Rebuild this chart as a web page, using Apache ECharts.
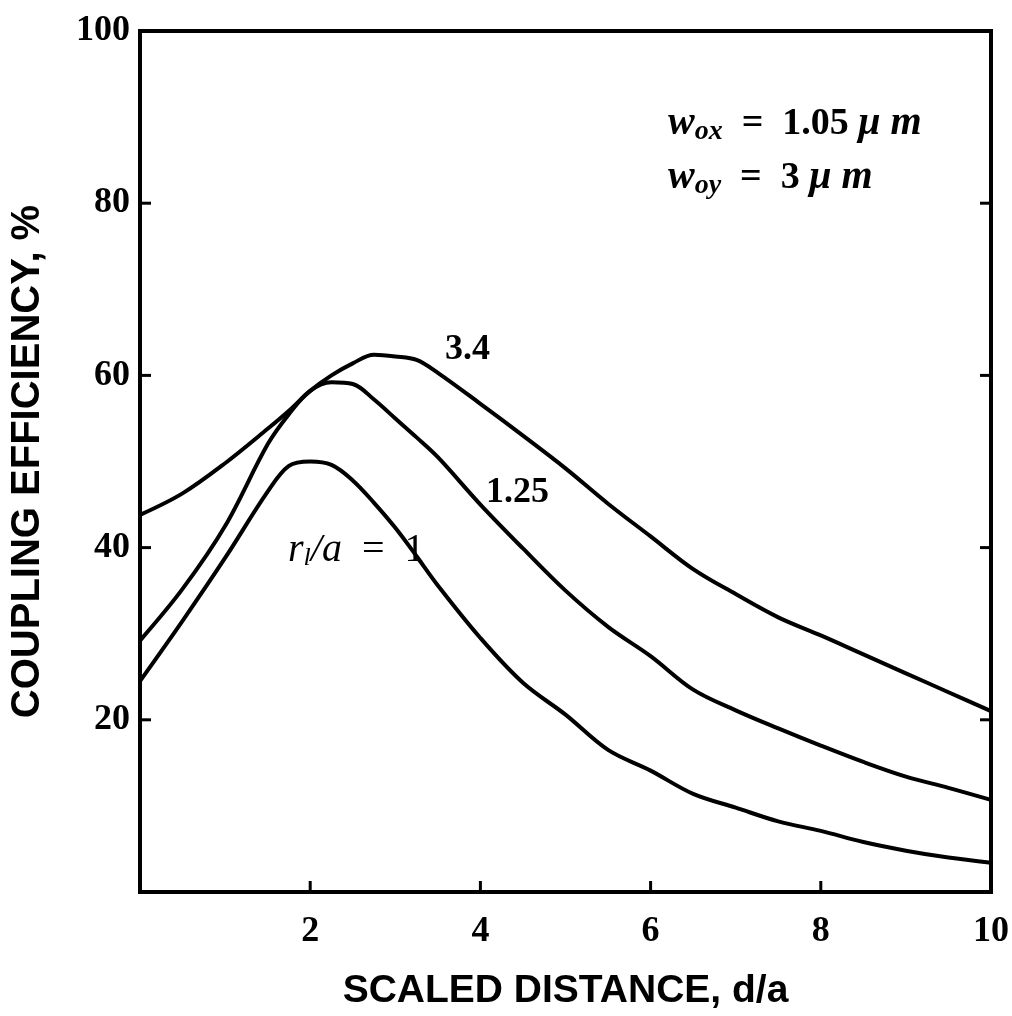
<!DOCTYPE html>
<html>
<head>
<meta charset="utf-8">
<script src="https://cdn.jsdelivr.net/npm/echarts@6/dist/echarts.min.js"></script>
<style>
html,body{margin:0;padding:0;background:#fff;}
#chart{width:1012px;height:1016px;}
</style>
</head>
<body>
<div id="chart"></div>
<script>
const xValues = [0, 0.5, 1, 1.5, 1.75, 2, 2.25, 2.5, 2.75, 3, 3.25, 3.5, 4, 4.5, 5, 5.5, 6, 6.5, 7, 7.5, 8, 8.5, 9, 9.5, 10];
const curve34 = [43.8, 46.3, 49.8, 53.8, 55.9, 58.2, 60.0, 61.4, 62.4, 62.2, 61.8, 60.3, 56.7, 53.0, 49.2, 45.1, 41.3, 37.5, 34.6, 31.9, 29.8, 27.6, 25.4, 23.2, 21.0];
const curve125 = [29.2, 35.2, 42.5, 52.0, 55.5, 58.2, 59.2, 59.0, 57.2, 55.0, 52.8, 50.5, 45.0, 39.9, 35.0, 30.8, 27.4, 23.5, 21.1, 19.0, 17.0, 15.1, 13.4, 12.1, 10.7];
const curve1 = [24.5, 31.5, 38.8, 46.5, 49.5, 50.0, 49.6, 47.8, 45.2, 42.3, 39.0, 35.6, 29.5, 24.3, 20.6, 16.5, 14.1, 11.4, 9.8, 8.2, 7.1, 5.8, 4.8, 4.0, 3.4];
const xTicks = [2, 4, 6, 8, 10];
const yTicks = [20, 40, 60, 80, 100];
const innerXTicks = [2, 4, 6, 8];
const innerYTicks = [20, 40, 60, 80];

const pairs = ys => xValues.map((x, i) => [x, ys[i]]);
const chart = echarts.init(document.getElementById('chart'));
const tickFont = {fontFamily: 'Liberation Serif', fontWeight: 'bold', fontSize: 36, color: '#000'};
const lineSeries = (name, ys) => ({
  name, type: 'line', data: pairs(ys), smooth: 0.35, symbol: 'none',
  lineStyle: {color: '#000', width: 4}
});
const serifIt = {fontFamily: 'Liberation Serif', fontStyle: 'italic', fontWeight: 'bold', fontSize: 40, color: '#000'};
const serifSub = {fontFamily: 'Liberation Serif', fontStyle: 'italic', fontWeight: 'bold', fontSize: 28, color: '#000', verticalAlign: 'bottom', padding: [16, 0, 0, 0]};
const serifN = {fontFamily: 'Liberation Serif', fontWeight: 'bold', fontSize: 38, color: '#000'};

const annotations = [
  {type: 'text', id: 'a1', left: 668, top: 104, style: {
    text: '{w|w}{s|ox}{n|  =  1.05 }{w|μ m}',
    rich: {w: serifIt, s: serifSub, n: serifN}
  }},
  {type: 'text', id: 'a2', left: 668, top: 158, style: {
    text: '{w|w}{s|oy}{n|  =  3 }{w|μ m}',
    rich: {w: serifIt, s: serifSub, n: serifN}
  }},
  {type: 'text', id: 'a3', left: 445, top: 332, style: {text: '3.4', font: 'bold 36px "Liberation Serif"', fill: '#000'}},
  {type: 'text', id: 'a4', left: 486, top: 475, style: {text: '1.25', font: 'bold 36px "Liberation Serif"', fill: '#000'}},
  {type: 'text', id: 'a5', left: 288, top: 530, style: {
    text: '{r|r}{s|l}{r|/a}{n|  =  1}',
    rich: {
      r: {fontFamily: 'Liberation Serif', fontStyle: 'italic', fontSize: 40, color: '#000'},
      s: {fontFamily: 'Liberation Serif', fontStyle: 'italic', fontSize: 26, color: '#000', verticalAlign: 'bottom', padding: [16, 0, 0, 0]},
      n: {fontFamily: 'Liberation Serif', fontSize: 40, color: '#000'}
    }
  }}
];

chart.setOption({
  backgroundColor: '#fff',
  animation: false,
  grid: {left: 136, right: 20, top: 31, bottom: 122, show: true, borderColor: '#000', borderWidth: 4, backgroundColor: 'transparent'},
  xAxis: {
    type: 'value', min: 0, max: 10, interval: 2,
    name: 'SCALED DISTANCE, d/a', nameLocation: 'middle', nameGap: 80,
    nameTextStyle: {fontFamily: 'Liberation Sans', fontWeight: 'bold', fontSize: 39, color: '#000'},
    axisLine: {show: false},
    axisTick: {show: false},
    axisLabel: {margin: 22, formatter: v => xTicks.includes(v) ? String(v) : '', ...tickFont},
    splitLine: {show: false}
  },
  yAxis: {
    type: 'value', min: 0, max: 100, interval: 20,
    name: 'COUPLING EFFICIENCY, %', nameLocation: 'middle', nameGap: 92, nameRotate: 90,
    nameTextStyle: {fontFamily: 'Liberation Sans', fontWeight: 'bold', fontSize: 40, color: '#000'},
    axisLine: {show: false},
    axisTick: {show: false},
    axisLabel: {margin: 10, formatter: v => yTicks.includes(v) ? String(v) : '', ...tickFont},
    splitLine: {show: false}
  },
  series: [
    lineSeries('3.4', curve34),
    lineSeries('1.25', curve125),
    lineSeries('1', curve1)
  ],
  graphic: annotations
});

// inward tick marks, positioned through the chart's own scales
const tickEls = [];
const tl = 11;
innerXTicks.forEach((x, i) => {
  const p = chart.convertToPixel({gridIndex: 0}, [x, 0]);
  tickEls.push({type: 'line', id: 'tb' + i, shape: {x1: p[0], y1: p[1], x2: p[0], y2: p[1] - tl}, style: {stroke: '#000', lineWidth: 3}});
});
innerYTicks.forEach((y, i) => {
  const p = chart.convertToPixel({gridIndex: 0}, [0, y]);
  const q = chart.convertToPixel({gridIndex: 0}, [10, y]);
  tickEls.push({type: 'line', id: 'tl' + i, shape: {x1: p[0], y1: p[1], x2: p[0] + tl, y2: p[1]}, style: {stroke: '#000', lineWidth: 3}});
  tickEls.push({type: 'line', id: 'tr' + i, shape: {x1: q[0], y1: q[1], x2: q[0] - tl, y2: q[1]}, style: {stroke: '#000', lineWidth: 3}});
});
chart.setOption({graphic: annotations.concat(tickEls)});
</script>
</body>
</html>
